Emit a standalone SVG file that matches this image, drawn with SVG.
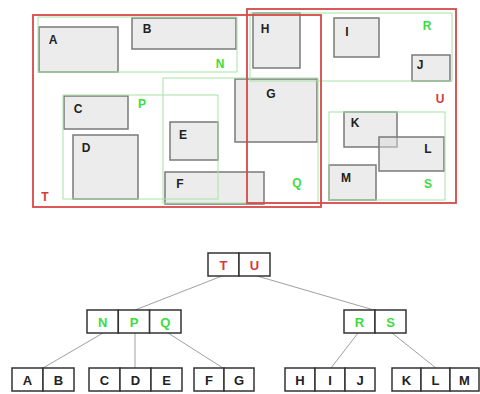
<svg xmlns="http://www.w3.org/2000/svg" width="480" height="394" viewBox="0 0 480 394">
<style>
.obj{fill:#d9d9d9;fill-opacity:0.5;stroke:#7a7a7a;stroke-width:1.5}
.grp{fill:none;stroke:#a6e2a6;stroke-width:1}
.top{fill:none;stroke:#d94848;stroke-width:1.8}
text{font-family:"Liberation Sans",Arial,sans-serif;font-weight:bold;text-anchor:middle}
.lb{font-size:12px;fill:#222}
.lg{font-size:12px;fill:#3ddc3d}
.lr{font-size:12px;fill:#d43a3a}
.cell{fill:#fff;stroke:#333;stroke-width:1.5}
.tk{font-size:13px;fill:#222}
.tg{font-size:13px;fill:#3ddc3d}
.tr{font-size:13px;fill:#d43a3a}
.edge{stroke:#a0a0a0;stroke-width:1;fill:none}
</style>
<rect width="480" height="394" fill="#fff"/>
<g id="objects">
<g id="A"><rect class="obj" x="39" y="27" width="79" height="45"/><text class="lb" x="53" y="44">A</text></g>
<g id="B"><rect class="obj" x="132" y="18" width="104" height="31"/><text class="lb" x="147" y="33">B</text></g>
<g id="C"><rect class="obj" x="64" y="96" width="64" height="33"/><text class="lb" x="78" y="113">C</text></g>
<g id="D"><rect class="obj" x="73" y="135" width="65" height="64"/><text class="lb" x="86" y="152">D</text></g>
<g id="E"><rect class="obj" x="170" y="122" width="48" height="38"/><text class="lb" x="183" y="139">E</text></g>
<g id="F"><rect class="obj" x="165" y="172" width="99" height="32"/><text class="lb" x="180" y="188">F</text></g>
<g id="G"><rect class="obj" x="235" y="79" width="82" height="63"/><text class="lb" x="271" y="98">G</text></g>
<g id="H"><rect class="obj" x="253" y="13" width="47" height="55"/><text class="lb" x="265" y="33">H</text></g>
<g id="I"><rect class="obj" x="334" y="18" width="45" height="39"/><text class="lb" x="347" y="36">I</text></g>
<g id="J"><rect class="obj" x="412" y="55" width="38" height="26"/><text class="lb" x="420" y="69">J</text></g>
<g id="K"><rect class="obj" x="344" y="112" width="53" height="35"/><text class="lb" x="355" y="127">K</text></g>
<g id="L"><rect class="obj" x="379" y="137" width="65" height="34"/><text class="lb" x="428" y="153">L</text></g>
<g id="M"><rect class="obj" x="329" y="165" width="47" height="35"/><text class="lb" x="346" y="182">M</text></g>
</g>
<g id="groups">
<g id="N"><rect class="grp" x="38" y="17" width="199" height="55"/><text class="lg" x="220" y="68">N</text></g>
<g id="P"><rect class="grp" x="63" y="95" width="155" height="104"/><text class="lg" x="142" y="108">P</text></g>
<g id="Q"><rect class="grp" x="163" y="78" width="155" height="125"/><text class="lg" x="297" y="187">Q</text></g>
<g id="R"><rect class="grp" x="250" y="13" width="202" height="68"/><text class="lg" x="427" y="30">R</text></g>
<g id="S"><rect class="grp" x="329" y="112" width="116" height="88"/><text class="lg" x="428" y="188">S</text></g>
<g id="T"><rect class="top" x="33" y="15" width="288" height="192"/><text class="lr" x="45" y="201">T</text></g>
<g id="U"><rect class="top" x="247" y="9" width="209" height="194"/><text class="lr" x="440" y="103">U</text></g>
</g>
<g id="connectors">
<line class="edge" x1="222" y1="276" x2="135" y2="310"/>
<line class="edge" x1="257" y1="276" x2="374" y2="310"/>
<line class="edge" x1="103" y1="333" x2="43" y2="368"/>
<line class="edge" x1="135" y1="333" x2="135" y2="368"/>
<line class="edge" x1="168" y1="333" x2="223" y2="368"/>
<line class="edge" x1="358" y1="333" x2="331" y2="368"/>
<line class="edge" x1="392" y1="333" x2="436" y2="368"/>
</g>
<g id="tree">
<g id="nodeTU"><rect class="cell" x="208" y="253" width="31" height="23"/><rect class="cell" x="239" y="253" width="31" height="23"/><text class="tr" x="223.5" y="269.5">T</text><text class="tr" x="254.5" y="269.5">U</text></g>
<g id="nodeNPQ"><rect class="cell" x="87" y="310" width="31.3" height="23"/><rect class="cell" x="118.3" y="310" width="31.3" height="23"/><rect class="cell" x="149.6" y="310" width="31.4" height="23"/><text class="tg" x="102.7" y="326.5">N</text><text class="tg" x="134" y="326.5">P</text><text class="tg" x="165.3" y="326.5">Q</text></g>
<g id="nodeRS"><rect class="cell" x="344" y="310" width="31" height="23"/><rect class="cell" x="375" y="310" width="31" height="23"/><text class="tg" x="359.5" y="326.5">R</text><text class="tg" x="390.5" y="326.5">S</text></g>
<g id="nodeAB"><rect class="cell" x="12" y="368" width="31" height="23"/><rect class="cell" x="43" y="368" width="31" height="23"/><text class="tk" x="27.5" y="384.5">A</text><text class="tk" x="58.5" y="384.5">B</text></g>
<g id="nodeCDE"><rect class="cell" x="89" y="368" width="31" height="23"/><rect class="cell" x="120" y="368" width="31" height="23"/><rect class="cell" x="151" y="368" width="31" height="23"/><text class="tk" x="104.5" y="384.5">C</text><text class="tk" x="135.5" y="384.5">D</text><text class="tk" x="166.5" y="384.5">E</text></g>
<g id="nodeFG"><rect class="cell" x="194" y="368" width="30" height="23"/><rect class="cell" x="224" y="368" width="30" height="23"/><text class="tk" x="209" y="384.5">F</text><text class="tk" x="239" y="384.5">G</text></g>
<g id="nodeHIJ"><rect class="cell" x="285" y="368" width="30" height="23"/><rect class="cell" x="315" y="368" width="30" height="23"/><rect class="cell" x="345" y="368" width="30" height="23"/><text class="tk" x="300" y="384.5">H</text><text class="tk" x="330" y="384.5">I</text><text class="tk" x="360" y="384.5">J</text></g>
<g id="nodeKLM"><rect class="cell" x="392" y="368" width="29" height="23"/><rect class="cell" x="421" y="368" width="29" height="23"/><rect class="cell" x="450" y="368" width="29" height="23"/><text class="tk" x="406.5" y="384.5">K</text><text class="tk" x="435.5" y="384.5">L</text><text class="tk" x="464.5" y="384.5">M</text></g>
</g>
</svg>
